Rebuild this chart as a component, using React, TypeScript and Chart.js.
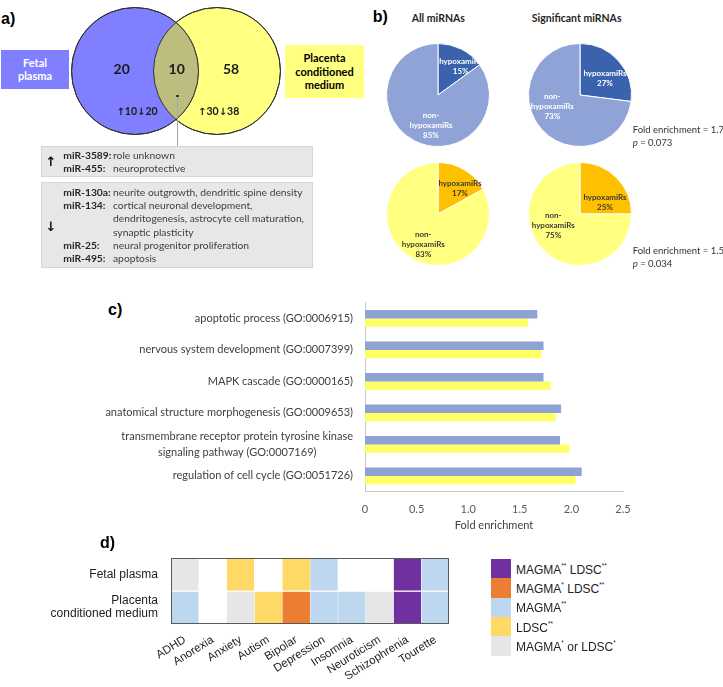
import React, { useEffect, useRef } from 'react';
import { Chart, registerables } from 'chart.js';
Chart.register(...registerables);

const FONT = 'Lato, "Open Sans", "Liberation Sans", sans-serif';
const ARIAL = '"Liberation Sans", Arial, sans-serif';
const ARROW_FONT = '"DejaVu Sans", sans-serif';

// ---------- a) Venn data ----------
const VENN_SETS = ['Fetal plasma', 'Placenta conditioned medium'];
const VENN_SET_LINES = [['Fetal', 'plasma'], ['Placenta', 'conditioned', 'medium']];
const VENN_REGION_COUNTS = [20, 10, 58]; // fetal only, both, placenta only
const VENN_UP = [10, 30];
const VENN_DOWN = [20, 38];
const UP_MIRS = ['miR-3589:', 'miR-455:'];
const UP_ROLES = [['role unknown'], ['neuroprotective']];
const DOWN_MIRS = ['miR-130a:', 'miR-134:', 'miR-25:', 'miR-495:'];
const DOWN_ROLES = [
  ['neurite outgrowth, dendritic spine density'],
  ['cortical neuronal development,', 'dendritogenesis, astrocyte cell maturation,', 'synaptic plasticity'],
  ['neural progenitor proliferation'],
  ['apoptosis'],
];

// ---------- b) pie data ----------
const PIE_LABELS = ['hypoxamiRs', 'non-hypoxamiRs'];
const PIE_COLUMNS = ['All miRNAs', 'Significant miRNAs'];
const FETAL_ALL = [15, 85];
const FETAL_SIG = [27, 73];
const PLACENTA_ALL = [17, 83];
const PLACENTA_SIG = [25, 75];
const FOLD_ENRICHMENT = ['1.7', '1.5'];
const P_VALUES = ['0.073', '0.034'];

// ---------- c) GO data ----------
const GO_TERMS = [
  'apoptotic process (GO:0006915)',
  'nervous system development (GO:0007399)',
  'MAPK cascade (GO:0000165)',
  'anatomical structure morphogenesis (GO:0009653)',
  ['transmembrane receptor protein tyrosine kinase', 'signaling pathway (GO:0007169)'],
  'regulation of cell cycle (GO:0051726)',
];
const GO_FETAL = [1.67, 1.73, 1.73, 1.9, 1.89, 2.1];
const GO_PLACENTA = [1.58, 1.71, 1.8, 1.85, 1.98, 2.04];
const FOLD_MIN = 0;
const FOLD_MAX = 2.5;
const FOLD_STEP = 0.5;

// ---------- d) heatmap data ----------
const DISORDERS = ['ADHD', 'Anorexia', 'Anxiety', 'Autism', 'Bipolar', 'Depression', 'Insomnia', 'Neuroticism', 'Schizophrenia', 'Tourette'];
const HEAT_ROW_LINES = [['Fetal plasma'], ['Placenta', 'conditioned medium']];
const HEAT_FETAL = ['weak', 'none', 'ldsc', 'none', 'ldsc', 'magma', 'none', 'none', 'both', 'magma'];
const HEAT_PLACENTA = ['magma', 'none', 'weak', 'ldsc', 'mixed', 'magma', 'magma', 'weak', 'both', 'magma'];
const LEGEND_KEYS = ['both', 'mixed', 'magma', 'ldsc', 'weak'];
const LEGEND_TEXT: Record<string, [string, string][]> = {
  both: [['MAGMA', '**'], [' LDSC', '**']],
  mixed: [['MAGMA', '*'], [' LDSC', '**']],
  magma: [['MAGMA', '**']],
  ldsc: [['LDSC', '**']],
  weak: [['MAGMA', '*'], [' or LDSC', '*']],
};
const HEAT_COLORS: Record<string, string> = {
  both: '#7030a0',
  mixed: '#ed7d31',
  magma: '#bdd7ee',
  ldsc: '#ffd966',
  weak: '#e7e6e6',
  none: '#ffffff',
};

const BASE_OPTS = {
  responsive: false,
  animation: false as const,
  devicePixelRatio: 1,
  events: [] as any[],
};
const NO_PLUGINS = { legend: { display: false }, tooltip: { enabled: false } };

function useChart(make: () => any) {
  const ref = useRef<HTMLCanvasElement>(null);
  useEffect(() => {
    const chart = new Chart(ref.current as HTMLCanvasElement, make());
    return () => chart.destroy();
  }, []);
  return ref;
}

function Cv({ r, left, top, w, h }: any) {
  return <canvas ref={r} width={w} height={h} style={{ position: 'absolute', left, top, width: w, height: h }} />;
}

function Txt({ x, y, align = 'left', style, children }: any) {
  const tx = align === 'center' ? '-50%' : align === 'right' ? '-100%' : '0';
  return (
    <div style={{ position: 'absolute', left: x, top: y, transform: `translate(${tx}, -50%)`, whiteSpace: 'nowrap', lineHeight: 1.15, textAlign: align, ...style }}>
      {children}
    </div>
  );
}

// ---------- Venn ----------
const vennOverlap = {
  id: 'vennOverlap',
  afterDatasetsDraw(chart: any) {
    const a = chart.getDatasetMeta(0).data[0];
    const b = chart.getDatasetMeta(1).data[0];
    const ctx = chart.ctx;
    ctx.save();
    ctx.beginPath();
    ctx.arc(a.x, a.y, a.options.radius, 0, Math.PI * 2);
    ctx.clip();
    ctx.beginPath();
    ctx.arc(b.x, b.y, b.options.radius, 0, Math.PI * 2);
    ctx.fillStyle = '#bdbd80';
    ctx.fill();
    ctx.restore();
    ctx.save();
    ctx.strokeStyle = '#333';
    ctx.lineWidth = 1;
    [a, b].forEach((p: any) => {
      ctx.beginPath();
      ctx.arc(p.x, p.y, p.options.radius, 0, Math.PI * 2);
      ctx.stroke();
    });
    ctx.restore();
  },
};

function Venn() {
  const ref = useChart(() => ({
    type: 'bubble',
    data: {
      datasets: [
        { label: VENN_SETS[0], data: [{ x: -41, y: 0, r: 63.5 }], backgroundColor: '#7f7fff', borderColor: '#333', borderWidth: 1, clip: false },
        { label: VENN_SETS[1], data: [{ x: 41, y: 0, r: 63.5 }], backgroundColor: '#ffff80', borderColor: '#333', borderWidth: 1, clip: false },
      ],
    },
    options: {
      ...BASE_OPTS,
      layout: { padding: 0, autoPadding: false },
      plugins: NO_PLUGINS,
      scales: {
        x: { display: false, min: -120, max: 120 },
        y: { display: false, min: -70, max: 70 },
      },
    },
    plugins: [vennOverlap],
  }));
  return <Cv r={ref} left={56} top={0.5} w={240} h={140} />;
}

// ---------- Pie ----------
function Pie({ cx, cy, values, colors }: any) {
  const ref = useChart(() => ({
    type: 'pie',
    data: {
      labels: PIE_LABELS,
      datasets: [{ data: values, backgroundColor: colors, borderColor: '#ffffff', borderWidth: 1 }],
    },
    options: { ...BASE_OPTS, radius: 51.5, layout: { padding: 0 }, plugins: NO_PLUGINS },
  }));
  const S = 112;
  return <Cv r={ref} left={cx - S / 2} top={cy - S / 2} w={S} h={S} />;
}

function PieLabel({ x, y, lines, color }: any) {
  return (
    <Txt x={x} y={y} align="center" style={{ font: `bold 8px ${FONT}`, lineHeight: '9.8px', color }}>
      {lines.map((l: string, i: number) => (
        <div key={i}>{l}</div>
      ))}
    </Txt>
  );
}

// ---------- GO bar chart ----------
const goLabels = {
  id: 'goLabels',
  afterDraw(chart: any) {
    const ys = chart.scales.y;
    const ctx = chart.ctx;
    const right = chart.chartArea.left - 12;
    ctx.save();
    ctx.font = `11px ${FONT}`;
    ctx.fillStyle = '#404040';
    ctx.textBaseline = 'middle';
    ctx.textAlign = 'center';
    chart.data.labels.forEach((lab: any, i: number) => {
      const lines = Array.isArray(lab) ? lab : [lab];
      const y0 = ys.getPixelForTick(i);
      const lh = 15.4;
      const maxW = Math.max(...lines.map((l: string) => ctx.measureText(l).width));
      lines.forEach((l: string, j: number) => {
        ctx.fillText(l, right - maxW / 2, y0 + (j - (lines.length - 1) / 2) * lh);
      });
    });
    ctx.restore();
  },
};

function GoChart() {
  const ref = useChart(() => ({
    type: 'bar',
    data: {
      labels: GO_TERMS,
      datasets: [
        { label: VENN_SETS[0], data: GO_FETAL, backgroundColor: '#8fa2d4', categoryPercentage: 0.53, barPercentage: 1 },
        { label: VENN_SETS[1], data: GO_PLACENTA, backgroundColor: '#ffff66', categoryPercentage: 0.53, barPercentage: 1 },
      ],
    },
    options: {
      ...BASE_OPTS,
      indexAxis: 'y',
      layout: { padding: { left: 365, top: 12.7, right: 27, bottom: 0 } },
      plugins: NO_PLUGINS,
      scales: {
        x: {
          min: FOLD_MIN,
          max: FOLD_MAX,
          ticks: { stepSize: FOLD_STEP, font: { family: FONT, size: 11 }, color: '#595959', padding: 11 },
          grid: { display: false, drawTicks: false },
          border: { color: '#c8c8c8' },
          title: { display: true, text: 'Fold enrichment', font: { family: FONT, size: 11 }, color: '#404040', padding: { top: 0, bottom: 3 } },
          afterFit: (s: any) => { s.height = 43.3; },
        },
        y: {
          ticks: { display: false },
          grid: { display: false, drawTicks: false },
          border: { color: '#c8c8c8' },
          afterFit: (s: any) => { s.width = 0; },
        },
      },
    },
    plugins: [goLabels],
  }));
  return <Cv r={ref} left={0} top={290} w={650} h={245} />;
}

// ---------- Heatmap ----------
const frame = {
  id: 'frame',
  afterDatasetsDraw(chart: any) {
    const { left, top, right, bottom } = chart.chartArea;
    const ctx = chart.ctx;
    ctx.save();
    ctx.strokeStyle = '#5a5a5a';
    ctx.lineWidth = 1;
    ctx.strokeRect(Math.round(left) + 0.5, Math.round(top) + 0.5, Math.round(right - left) - 1, Math.round(bottom - top) - 1);
    ctx.restore();
  },
};

function Heatmap() {
  const cell = { grouped: false, barPercentage: 1, categoryPercentage: 1, borderColor: '#ffffff', borderWidth: { top: 1, bottom: 1, left: 0.5, right: 0.5 }, borderSkipped: false };
  const ref = useChart(() => ({
    type: 'bar',
    data: {
      labels: DISORDERS,
      datasets: [
        { label: 'Fetal plasma', data: DISORDERS.map(() => [1, 2]), backgroundColor: HEAT_FETAL.map((k) => HEAT_COLORS[k]), ...cell },
        { label: 'Placenta conditioned medium', data: DISORDERS.map(() => [0, 1]), backgroundColor: HEAT_PLACENTA.map((k) => HEAT_COLORS[k]), ...cell },
      ],
    },
    options: {
      ...BASE_OPTS,
      layout: { padding: { left: 10, top: 13.3, right: 20.7, bottom: 0 } },
      plugins: NO_PLUGINS,
      scales: {
        x: {
          grid: { display: false, drawTicks: false },
          border: { display: false },
          ticks: { font: { family: ARIAL, size: 11.5 }, color: '#222', minRotation: 32, maxRotation: 32, padding: 9, autoSkip: false },
          afterFit: (s: any) => { s.height = 63; s.paddingLeft = 0; s.paddingRight = 0; },
        },
        y: {
          min: 0,
          max: 2,
          grid: { display: false, drawTicks: false },
          border: { display: false },
          afterBuildTicks: (s: any) => { s.ticks = [{ value: 0.5 }, { value: 1.5 }]; },
          ticks: {
            callback: (v: number) => (v > 1 ? HEAT_ROW_LINES[0] : HEAT_ROW_LINES[1]),
            font: { family: ARIAL, size: 12, lineHeight: 1.1 },
            color: '#222',
            padding: 13,
          },
          afterFit: (s: any) => { s.width = 161; s.paddingTop = 0; s.paddingBottom = 0; },
        },
      },
    },
    plugins: [frame],
  }));
  return <Cv r={ref} left={0} top={545} w={470} h={142} />;
}

const panelLabel = { font: `bold 16px ${ARIAL}`, color: '#000' };
const arrowStyle = { fontFamily: ARROW_FONT, fontWeight: 'bold' as const };

export default function App() {
  const up: any[] = [];
  UP_MIRS.forEach((m, i) => UP_ROLES[i].forEach((r, j) => up.push({ m: j === 0 ? m : '', r })));
  const down: any[] = [];
  DOWN_MIRS.forEach((m, i) => DOWN_ROLES[i].forEach((r, j) => down.push({ m: j === 0 ? m : '', r })));
  const rowStyle = { font: `10.3px ${FONT}`, color: '#404040' };
  const mirStyle = { font: `bold 10.3px ${FONT}`, color: '#262626' };
  const legendTops = [559, 578.3, 597.6, 616.9, 636.2];
  const upDown = (i: number) => (
    <>
      <span style={{ ...arrowStyle, fontSize: 10 }}>↑</span>
      {VENN_UP[i]}
      <span style={{ ...arrowStyle, fontSize: 10 }}>↓</span>
      {VENN_DOWN[i]}
    </>
  );

  return (
    <div style={{ position: 'absolute', left: 0, top: 0, width: 723, height: 687, background: '#fff', overflow: 'hidden', fontFamily: FONT }}>
      {/* a) */}
      <Txt x={1} y={19} style={panelLabel}>a)</Txt>
      <div style={{ position: 'absolute', left: 1, top: 50, width: 68, height: 39, background: '#7f7fff', display: 'flex', flexDirection: 'column', justifyContent: 'center', alignItems: 'center', color: '#fff', font: `bold 11px ${FONT}`, lineHeight: '12.5px' }}>
        {VENN_SET_LINES[0].map((l) => <div key={l}>{l}</div>)}
      </div>
      <div style={{ position: 'absolute', left: 285, top: 45, width: 79, height: 53, background: '#ffff80', display: 'flex', flexDirection: 'column', justifyContent: 'center', alignItems: 'center', color: '#000', font: `bold 11px ${FONT}`, lineHeight: '13.5px' }}>
        {VENN_SET_LINES[1].map((l) => <div key={l}>{l}</div>)}
      </div>
      <Venn />
      <Txt x={121.7} y={68} align="center" style={{ font: `bold 14px ${FONT}`, color: '#1a1a1a' }}>{VENN_REGION_COUNTS[0]}</Txt>
      <Txt x={176.7} y={68} align="center" style={{ font: `bold 14px ${FONT}`, color: '#1a1a1a' }}>{VENN_REGION_COUNTS[1]}</Txt>
      <Txt x={231} y={68} align="center" style={{ font: `bold 14px ${FONT}`, color: '#1a1a1a' }}>{VENN_REGION_COUNTS[2]}</Txt>
      <Txt x={137} y={110.7} align="center" style={{ font: `bold 10.5px ${FONT}`, color: '#1a1a1a' }}>{upDown(0)}</Txt>
      <Txt x={218.7} y={110.7} align="center" style={{ font: `bold 10.5px ${FONT}`, color: '#1a1a1a' }}>{upDown(1)}</Txt>
      <div style={{ position: 'absolute', left: 176, top: 94.5, width: 2.5, height: 2.5, borderRadius: '50%', background: '#222' }} />
      <div style={{ position: 'absolute', left: 177, top: 98, width: 1, height: 47.5, background: '#a6a6a6' }} />

      <div style={{ position: 'absolute', left: 41, top: 145.5, width: 270, height: 29, background: '#e7e7e7', border: '1px solid #d6d6d6' }} />
      <div style={{ position: 'absolute', left: 41, top: 182, width: 270, height: 84, background: '#e7e7e7', border: '1px solid #d6d6d6' }} />
      <Txt x={51} y={161.5} align="center" style={{ ...arrowStyle, fontSize: 13, color: '#111' }}>↑</Txt>
      <Txt x={51} y={226.5} align="center" style={{ ...arrowStyle, fontSize: 13, color: '#111' }}>↓</Txt>
      {up.map((row, i) => (
        <React.Fragment key={'u' + i}>
          {row.m && <Txt x={63.3} y={155 + i * 13.3} style={mirStyle}>{row.m}</Txt>}
          <Txt x={113} y={155 + i * 13.3} style={rowStyle}>{row.r}</Txt>
        </React.Fragment>
      ))}
      {down.map((row, i) => (
        <React.Fragment key={'d' + i}>
          {row.m && <Txt x={63.3} y={191.7 + i * 13.3} style={mirStyle}>{row.m}</Txt>}
          <Txt x={113} y={191.7 + i * 13.3} style={rowStyle}>{row.r}</Txt>
        </React.Fragment>
      ))}

      {/* b) */}
      <Txt x={372.7} y={16.7} style={panelLabel}>b)</Txt>
      <Txt x={438.3} y={18.3} align="center" style={{ font: `bold 10.5px ${FONT}`, color: '#262626' }}>{PIE_COLUMNS[0]}</Txt>
      <Txt x={576.7} y={18.3} align="center" style={{ font: `bold 10.5px ${FONT}`, color: '#262626' }}>{PIE_COLUMNS[1]}</Txt>
      <Pie cx={438} cy={94.5} values={FETAL_ALL} colors={['#3a62ad', '#8fa3d6']} />
      <Pie cx={579.5} cy={94.5} values={FETAL_SIG} colors={['#3a62ad', '#8fa3d6']} />
      <Pie cx={438} cy={214} values={PLACENTA_ALL} colors={['#ffc000', '#ffff80']} />
      <Pie cx={579.5} cy={214} values={PLACENTA_SIG} colors={['#ffc000', '#ffff80']} />
      <PieLabel x={460.7} y={66.2} color="#fff" lines={[PIE_LABELS[0], FETAL_ALL[0] + '%']} />
      <PieLabel x={431} y={124.5} color="#fff" lines={['non-', 'hypoxamiRs', FETAL_ALL[1] + '%']} />
      <PieLabel x={605} y={77.7} color="#fff" lines={[PIE_LABELS[0], FETAL_SIG[0] + '%']} />
      <PieLabel x={552.3} y={106} color="#fff" lines={['non-', 'hypoxamiRs', FETAL_SIG[1] + '%']} />
      <PieLabel x={460} y={187.7} color="#3a3a3a" lines={[PIE_LABELS[0], PLACENTA_ALL[0] + '%']} />
      <PieLabel x={423.3} y={244.3} color="#3a3a3a" lines={['non-', 'hypoxamiRs', PLACENTA_ALL[1] + '%']} />
      <PieLabel x={605} y={201.8} color="#3a3a3a" lines={[PIE_LABELS[0], PLACENTA_SIG[0] + '%']} />
      <PieLabel x={553.3} y={224.7} color="#3a3a3a" lines={['non-', 'hypoxamiRs', PLACENTA_SIG[1] + '%']} />
      {[0, 1].map((i) => (
        <React.Fragment key={'f' + i}>
          <Txt x={632.7} y={[129, 250][i]} style={{ font: `9.5px ${FONT}`, color: '#333' }}>{`Fold enrichment = ${FOLD_ENRICHMENT[i]}`}</Txt>
          <Txt x={632.7} y={[141.7, 262.7][i]} style={{ font: `9.5px ${FONT}`, color: '#333' }}>
            <i>p</i>{` = ${P_VALUES[i]}`}
          </Txt>
        </React.Fragment>
      ))}

      {/* c) */}
      <Txt x={108} y={310} style={panelLabel}>c)</Txt>
      <GoChart />

      {/* d) */}
      <Txt x={100} y={543} style={panelLabel}>d)</Txt>
      <Heatmap />
      {LEGEND_KEYS.map((k, i) => (
        <React.Fragment key={k}>
          <div style={{ position: 'absolute', left: 490.7, top: legendTops[i], width: 20.3, height: 19.4, background: HEAT_COLORS[k] }} />
          <Txt x={516} y={legendTops[i] + 9.7} style={{ font: `12px ${ARIAL}`, color: '#222' }}>
            {LEGEND_TEXT[k].map(([t, s], j) => (
              <span key={j}>
                {t}
                <sup style={{ fontSize: 6.5, verticalAlign: 6 }}>{s}</sup>
              </span>
            ))}
          </Txt>
        </React.Fragment>
      ))}
    </div>
  );
}
